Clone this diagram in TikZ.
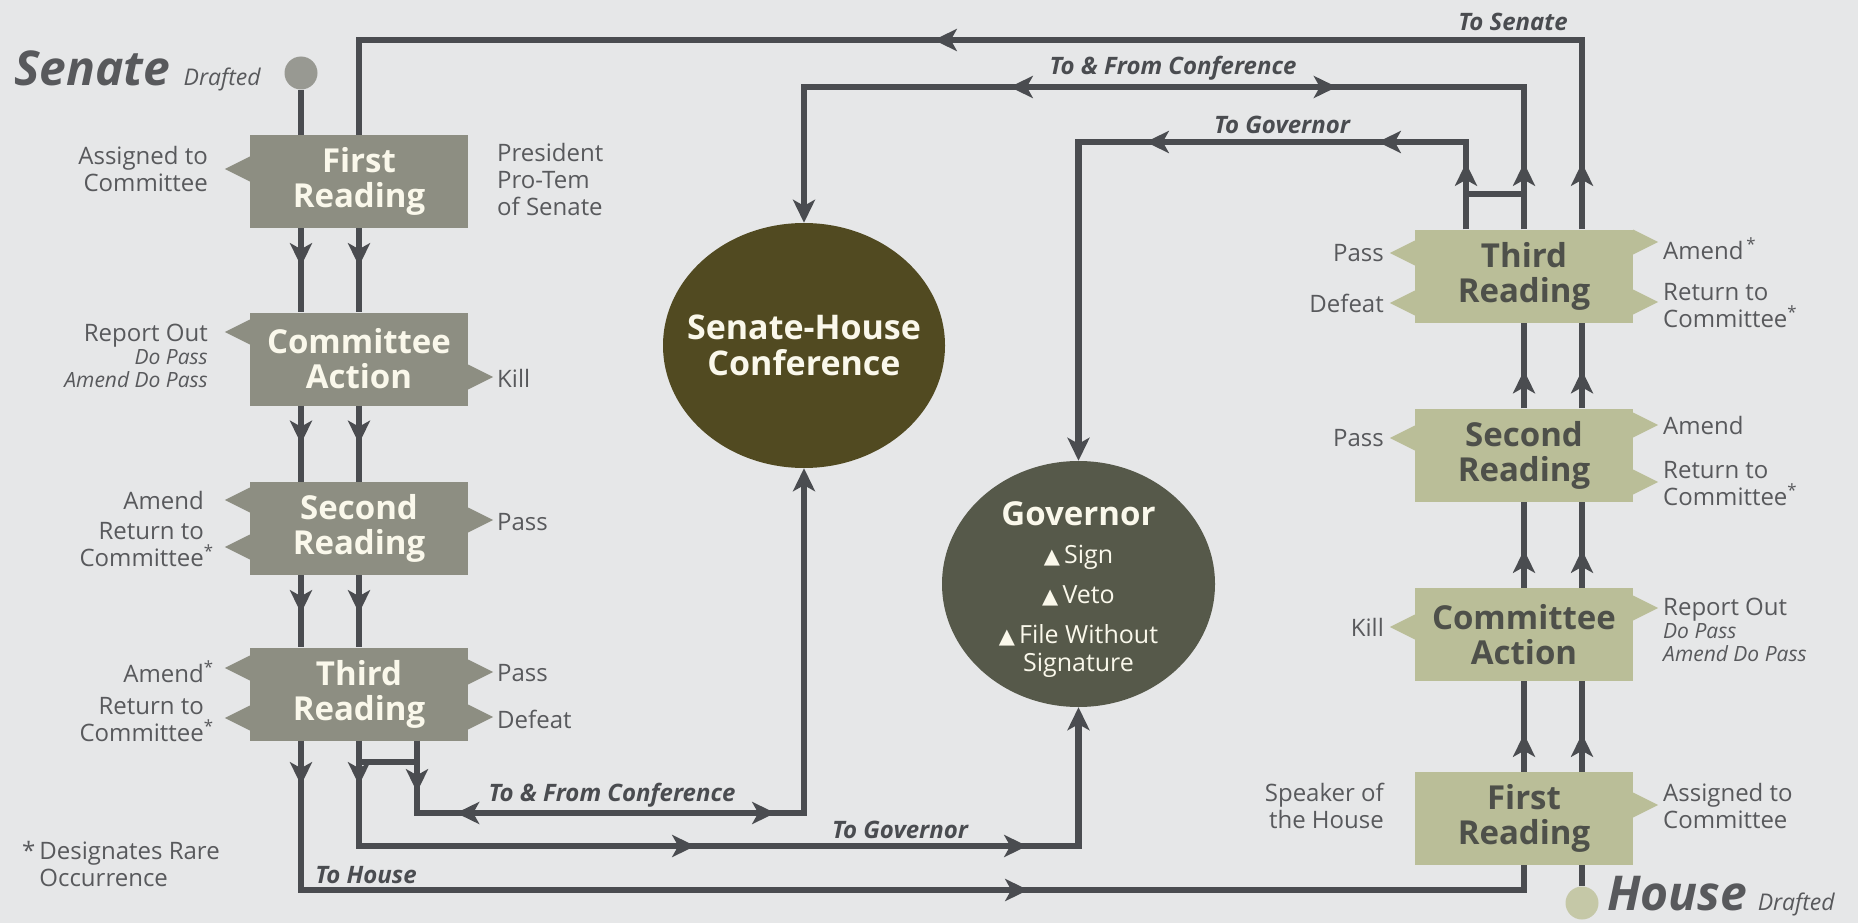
\documentclass[tikz,border=0pt]{standalone}
\usepackage{fontspec}
\setmainfont{Open Sans}
\newfontfamily\symfont{DejaVu Sans}
\usetikzlibrary{positioning,shapes.geometric,arrows.meta,decorations.markings}

\definecolor{paper}{RGB}{230,231,232}
\definecolor{flowgray}{RGB}{74,76,80}
\definecolor{senategray}{RGB}{141,142,130}
\definecolor{housekhaki}{RGB}{186,190,152}
\definecolor{senatedot}{RGB}{152,153,146}
\definecolor{housedot}{RGB}{197,200,167}
\definecolor{confbrown}{RGB}{81,74,33}
\definecolor{govolive}{RGB}{86,89,74}
\definecolor{cream}{RGB}{250,248,235}
\definecolor{labelgray}{RGB}{88,89,92}
\definecolor{boxdark}{RGB}{78,80,74}

% little pointers on the sides of the reading boxes
\newcommand{\tabL}[3]{\fill[#3] (#1.west |- 0,#2) ++(0,-12.5) -- ++(-25,12.5) -- ++(25,12.5) -- cycle;}
\newcommand{\tabR}[3]{\fill[#3] (#1.east |- 0,#2) ++(0,-12.5) -- ++(25,12.5) -- ++(-25,12.5) -- cycle;}
\newcommand{\govtri}{{\symfont\fontsize{21}{24}\selectfont ▲}}
\newcommand{\rare}{\textsuperscript{*}}
\newcommand{\subnote}[1]{{\itshape\fontsize{21}{23}\selectfont #1}}

\tikzset{flowtip/.tip={Stealth[length=23pt,width=22pt,inset=6pt]}}

\begin{document}
\begin{tikzpicture}[x=1pt,y=-1pt,
  flow/.style={draw=flowgray, line width=6.5pt},
  tipat/.style={postaction={decorate, decoration={markings, mark=at position #1 with {\arrow{flowtip}}}}},
  tipback/.style={postaction={decorate, decoration={markings, mark=at position #1 with {\arrowreversed{flowtip}}}}},
  senbox/.style={rectangle, fill=senategray, text=cream, minimum width=218pt, minimum height=93pt,
    inner sep=0pt, align=center, font=\fontsize{33}{35}\selectfont\bfseries},
  houbox/.style={senbox, fill=housekhaki, text=boxdark},
  oval/.style={ellipse, inner sep=0pt},
  ovaltext/.style={text=cream, inner sep=0pt, align=center},
  lbl/.style={text=labelgray, inner sep=0pt, font=\fontsize{24}{27}\selectfont},
  route/.style={text=flowgray, inner sep=0pt, font=\fontsize{24}{27}\selectfont\bfseries\itshape},
  head/.style={text=labelgray, inner sep=0pt, font=\fontsize{48}{50}\selectfont\bfseries\itshape},
  drafted/.style={text=labelgray, inner sep=0pt, font=\fontsize{23}{25}\selectfont\itshape},
  dot/.style={circle, inner sep=0pt, minimum size=33pt}]

\fill[paper] (0,0) rectangle (1858,923);
\useasboundingbox (0,0) rectangle (1858,923);

% columns and levels of the flow lines
\coordinate (sL) at (301,0);
\coordinate (sM) at (359,0);
\coordinate (sR) at (417,0);
\coordinate (hL) at (1466,0);
\coordinate (hM) at (1524,0);
\coordinate (hR) at (1582,0);
\coordinate (ySen) at (0,40);
\coordinate (yConfT) at (0,87);
\coordinate (yGovT) at (0,142);
\coordinate (yBrH) at (0,194);
\coordinate (yBrS) at (0,762);
\coordinate (yConfB) at (0,813);
\coordinate (yGovB) at (0,846);
\coordinate (yHouse) at (0,890);

% senate
\node[dot, fill=senatedot] (senC) at (301,73) {};
\node[head, anchor=base west] (senT) at (14,86) {Senate};
\node[drafted, base right=13pt of senT] (senDr) {Drafted};
\node[senbox] (S1) at (359,181.5) {First\\Reading};
\node[senbox] (S2) at (359,359) {Committee\\Action};
\node[senbox] (S3) at (359,528.5) {Second\\Reading};
\node[senbox] (S4) at (359,694) {Third\\Reading};

% house
\node[dot, fill=housedot] (houC) at (1582,903) {};
\node[head, anchor=base west] (houT) at (1607,910) {House};
\node[drafted, base right=10pt of houT] (houDr) {Drafted};
\node[houbox] (H1) at (1524,818.5) {First\\Reading};
\node[houbox] (H2) at (1524,634.5) {Committee\\Action};
\node[houbox] (H3) at (1524,455) {Second\\Reading};
\node[houbox] (H4) at (1524,276) {Third\\Reading};

% conference and governor
\node[oval, fill=confbrown, minimum width=282pt, minimum height=245pt] (conf) at (804,345.5) {};
\node[ovaltext, font=\fontsize{34}{36}\selectfont\bfseries] (confT) at (conf) {Senate-House\\Conference};
\node[oval, fill=govolive, minimum width=273pt, minimum height=246pt] (gov) at (1078.5,584) {};
\node[ovaltext, font=\fontsize{25}{28}\selectfont, below=0pt of gov.center, anchor=center, yshift=-6pt] (govT)
  {{\fontsize{33}{36}\selectfont\bfseries Governor}\\[10pt]\govtri\,Sign\\[12pt]\govtri\,Veto\\[12pt]\govtri\,File Without\\Signature};

% pointers
\foreach \b/\y in {S1/169,S2/332,S3/500,S3/547,S4/668,S4/718}{\tabL{\b}{\y}{senategray}}
\foreach \b/\y in {S2/377,S3/520,S4/672,S4/717}{\tabR{\b}{\y}{senategray}}
\foreach \b/\y in {H4/253,H4/303,H3/438,H2/627}{\tabL{\b}{\y}{housekhaki}}
\foreach \b/\y in {H4/242,H4/302,H3/425,H3/482,H2/608,H1/805}{\tabR{\b}{\y}{housekhaki}}

% senate notes
\node[lbl, anchor=east, align=right] (sAssign) at (208,169) {Assigned to\\Committee};
\node[lbl, anchor=west, align=left] (sPres) at (497,179) {President\\Pro-Tem\\of Senate};
\node[lbl, anchor=east, align=right, font=\fontsize{24}{23}\selectfont] (sReport) at (208,356) {Report Out\\\subnote{Do Pass}\\\subnote{Amend Do Pass}};
\node[lbl, anchor=west] (sKill) at (497,378) {Kill};
\node[lbl, anchor=east] (sAmend2) at (204,500) {Amend};
\node[lbl, anchor=east, align=right] (sReturn2) at (204,545) {Return to\\Committee\rlap{\rare}};
\node[lbl, anchor=west] (sPass2) at (497,522) {Pass};
\node[lbl, anchor=east] (sAmend3) at (204,672) {Amend\rlap{\rare}};
\node[lbl, anchor=east, align=right] (sReturn3) at (204,720) {Return to\\Committee\rlap{\rare}};
\node[lbl, anchor=west] (sPass3) at (497,673) {Pass};
\node[lbl, anchor=west] (sDefeat) at (497,719) {Defeat};

% house notes
\node[lbl, anchor=east] (hPass4) at (1384,253) {Pass};
\node[lbl, anchor=east] (hDefeat) at (1384,303) {Defeat};
\node[lbl, anchor=west] (hAmend4) at (1663,249) {Amend\textsuperscript{\,*}};
\node[lbl, anchor=west, align=left] (hReturn4) at (1663,306) {Return to\\Committee\rare};
\node[lbl, anchor=east] (hPass3) at (1384,438) {Pass};
\node[lbl, anchor=west] (hAmend3) at (1663,425) {Amend};
\node[lbl, anchor=west, align=left] (hReturn3) at (1663,484) {Return to\\Committee\rare};
\node[lbl, anchor=east] (hKill) at (1384,627) {Kill};
\node[lbl, anchor=west, align=left, font=\fontsize{24}{23}\selectfont] (hReport) at (1663,630) {Report Out\\\subnote{Do Pass}\\\subnote{Amend Do Pass}};
\node[lbl, anchor=east, align=right] (hSpeaker) at (1384,806) {Speaker of\\the House};
\node[lbl, anchor=west, align=left] (hAssign) at (1663,806) {Assigned to\\Committee};

\node[lbl, anchor=west] (rare) at (22,868) {\begin{tabular}{@{}l@{\,}l@{}}*&Designates Rare\\&Occurrence\end{tabular}};

% route names
\node[route] (rSen) at (1513,22) {To Senate};
\node[route] (rConfT) at (1173,68) {To \& From Conference};
\node[route] (rGovT) at (1282,125) {To Governor};
\node[route] (rConfB) at (612,795) {To \& From Conference};
\node[route] (rGovB) at (900,830) {To Governor};
\node[route] (rHouse) at (366,875) {To House};

% senate flow
\draw[flow] (senC) -- (senC |- S1.north);
\foreach \a/\b in {S1/S2,S2/S3,S3/S4}{
  \draw[flow, tipat=38pt] (sL |- \a.south) -- (sL |- \b.north);
  \draw[flow, tipat=38pt] (sM |- \a.south) -- (sM |- \b.north);
}
\draw[flow, tipat=44.5pt, tipat=876.5pt] (sL |- S4.south) |- (hM |- yHouse) -- (H1.south);
\draw[flow, -flowtip, tipat=44.5pt, tipat=441.5pt, tipat=773.5pt] (sM |- S4.south) |- (gov.south |- yGovB) -- (gov.south);
\draw[flow, -flowtip, tipat=51.5pt, tipback=111.5pt, tipat=430.5pt] (sR |- S4.south) |- (conf.south |- yConfB) -- (conf.south);
\draw[flow] (sM |- yBrS) -- (sR |- yBrS);

% house flow
\draw[flow] (houC) -- (houC |- H1.south);
\foreach \a/\b in {H1/H2,H2/H3,H3/H4}{
  \draw[flow, tipat=38pt] (hM |- \a.north) -- (hM |- \b.south);
  \draw[flow, tipat=38pt] (hR |- \a.north) -- (hR |- \b.south);
}
\draw[flow, tipat=66.5pt, tipat=837.5pt] (hR |- H4.north) |- (S1.north |- ySen) -- (S1.north);
\draw[flow, -flowtip, tipat=66.5pt, tipback=329.5pt, tipat=656.5pt] (hM |- H4.north) |- (conf.north |- yConfT) -- (conf.north);
\draw[flow, -flowtip, tipat=66.5pt, tipat=175.5pt, tipat=407.5pt] (hL |- H4.north) |- (gov.north |- yGovT) -- (gov.north);
\draw[flow] (hL |- yBrH) -- (hM |- yBrH);
\end{tikzpicture}
\end{document}
